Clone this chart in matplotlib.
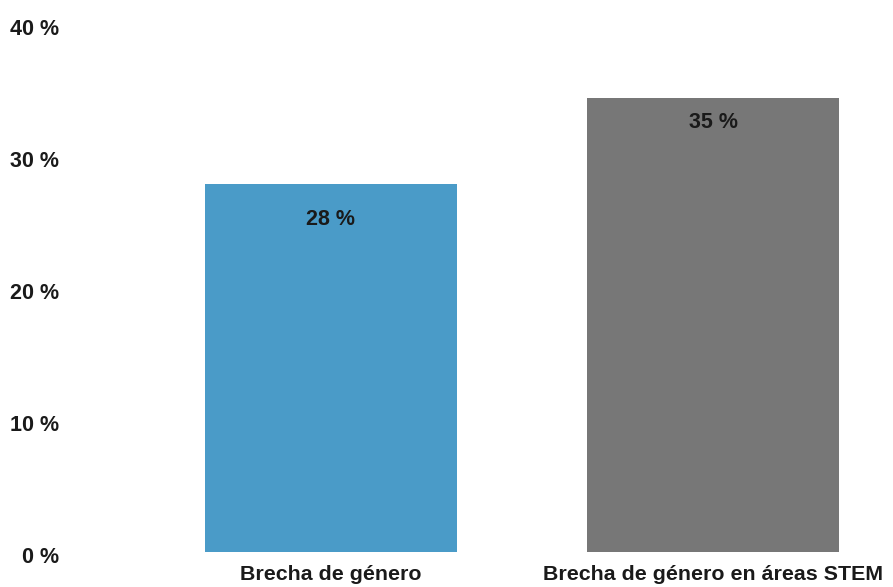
import matplotlib
matplotlib.use("Agg")
import matplotlib.pyplot as plt
from matplotlib.transforms import ScaledTranslation

categories = ["Brecha de género", "Brecha de género en áreas STEM"]
values = [27.85, 34.4]
value_labels = ["28 %", "35 %"]
yticks = [0, 10, 20, 30, 40]
ytick_labels = ["0 %", "10 %", "20 %", "30 %", "40 %"]

colors = ["#4a9bc8", "#777777"]
label_offsets_pt = [-25, -17.5]

plt.rcParams['font.family'] = ['Liberation Sans', 'DejaVu Sans']

fig = plt.figure(figsize=(8.93, 5.87), dpi=100)
ax = fig.add_axes([178.2 / 893, 35 / 587, 687.6 / 893, 528 / 587])

x = list(range(len(categories)))
bars = ax.bar(x, values, width=0.662, color=colors)

for xi, v, lab, off in zip(x, values, value_labels, label_offsets_pt):
    ax.annotate(lab, (xi, v), xytext=(0, off), textcoords="offset points",
                ha="center", va="center", fontsize=15.5, fontweight="bold",
                color="#1a1a1a")

ax.set_xlim(-0.4, 1.4)
ax.set_ylim(0, 40)
ax.set_yticks(yticks)
ax.set_yticklabels(ytick_labels, fontsize=15.5, fontweight="bold", color="#1a1a1a")
ax.set_xticks(x)
ax.set_xticklabels(categories, fontsize=15.4, fontweight="bold", color="#1a1a1a")
ax.tick_params(axis="y", length=0, pad=86)
ax.tick_params(axis="x", length=0, pad=9.5)
shift = ScaledTranslation(0, -3 / 100, fig.dpi_scale_trans)
for lab in ax.get_yticklabels():
    lab.set_transform(lab.get_transform() + shift)
for s in ax.spines.values():
    s.set_visible(False)

fig.savefig("out.png", dpi=100)
